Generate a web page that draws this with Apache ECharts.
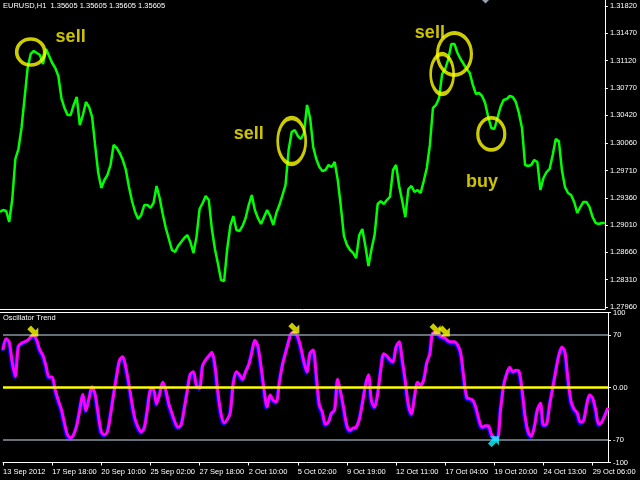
<!DOCTYPE html>
<html><head><meta charset="utf-8">
<script src="https://cdn.jsdelivr.net/npm/echarts@6/dist/echarts.min.js"></script>
<style>html,body{margin:0;padding:0;background:#000;}#c{width:640px;height:480px;}</style>
</head><body><div id="c"></div>
<script>
const tickLabels = ['13 Sep 2012','17 Sep 18:00','20 Sep 10:00','25 Sep 02:00','27 Sep 18:00','2 Oct 10:00','5 Oct 02:00','9 Oct 19:00','12 Oct 11:00','17 Oct 04:00','19 Oct 20:00','24 Oct 13:00','29 Oct 06:00'];
const priceTicks = [1.31820,1.31470,1.31120,1.30770,1.30420,1.30060,1.29710,1.29360,1.29010,1.28660,1.28310,1.27960];
const oscTicks = [100,70,0,-70,-100];
const oscLevels = [70,0,-70];
const price = [1.29178,1.29204,1.29191,1.29050,1.29345,1.29858,1.29986,1.30256,1.30640,1.31025,
1.31205,1.31243,1.31217,1.31192,1.31076,1.31269,1.31179,1.31089,1.31025,1.30922,
1.30640,1.30512,1.30422,1.30422,1.30551,1.30653,1.30294,1.30422,1.30589,1.30525,
1.30397,1.30025,1.29678,1.29486,1.29589,1.29653,1.29781,1.30038,1.29999,1.29935,
1.29845,1.29717,1.29499,1.29319,1.29178,1.29089,1.29140,1.29268,1.29268,1.29230,
1.29294,1.29512,1.29358,1.29153,1.28973,1.28832,1.28691,1.28665,1.28742,1.28794,
1.28845,1.28883,1.28794,1.28653,1.28858,1.29217,1.29294,1.29384,1.29332,1.28960,
1.28704,1.28511,1.28306,1.28294,1.28704,1.29000,1.29127,1.28948,1.28935,1.29000,
1.29101,1.29268,1.29396,1.29204,1.29101,1.29024,1.29114,1.29204,1.29127,1.29012,
1.29166,1.29268,1.29396,1.29525,1.29973,1.30204,1.30230,1.30153,1.30114,1.30191,
1.30551,1.30384,1.30012,1.29858,1.29755,1.29704,1.29717,1.29781,1.29755,1.29820,
1.29589,1.29255,1.28871,1.28755,1.28691,1.28653,1.28588,1.28883,1.28960,1.28742,
1.28486,1.28704,1.28883,1.29281,1.29319,1.29281,1.29332,1.29371,1.29717,1.29781,
1.29512,1.29319,1.29114,1.29473,1.29512,1.29435,1.29460,1.29422,1.29576,1.29743,
1.30038,1.30512,1.30551,1.30640,1.30948,1.31012,1.31140,1.31333,1.31333,1.31217,
1.31140,1.31076,1.31012,1.30961,1.30807,1.30692,1.30704,1.30666,1.30576,1.30397,
1.30256,1.30243,1.30384,1.30525,1.30615,1.30627,1.30666,1.30653,1.30589,1.30448,
1.30256,1.29781,1.29768,1.29781,1.29845,1.29820,1.29460,1.29614,1.29691,1.29730,
1.29909,1.30114,1.30089,1.29717,1.29499,1.29422,1.29396,1.29307,1.29166,1.29242,
1.29307,1.29307,1.29242,1.29114,1.29037,1.29024,1.29037,1.29037];
const osc = [50,65,61,34,15,55,59,61,63,67,
69,63,50,43,29,14,14,-3,-17,-29,
-47,-63,-67,-63,-51,-30,-9,-31,-15,1,
-9,-35,-59,-63,-59,-37,-10,15,37,41,
27,5,-21,-42,-53,-59,-54,-30,-3,-2,
-22,-9,7,-3,-22,-34,-46,-53,-50,-29,
-5,18,21,3,-1,29,37,42,47,30,
-7,-35,-47,-43,-34,6,21,17,11,21,
30,46,63,55,29,-2,-26,-10,-17,-19,
7,30,46,61,73,73,67,53,34,21,
46,50,17,-23,-33,-49,-46,-34,-30,11,
-7,-29,-51,-57,-54,-53,-43,-22,2,17,
-18,-26,-9,23,45,42,37,34,54,61,
37,9,-23,-35,-13,7,3,10,33,45,
73,73,70,67,66,62,61,61,57,47,
15,-13,-15,-17,-27,-43,-53,-51,-51,-62,
-67,-69,-31,2,18,27,21,23,22,-2,
-38,-59,-65,-53,-30,-21,-50,-49,-23,-1,
22,43,54,47,10,-19,-29,-34,-46,-45,
-25,-10,-14,-30,-49,-46,-37,-27];
const sellArrows = [[10,74],[95,78],[141,77],[144,74]];
const buyArrows = [[160,-71]];
const circles = [[10,1.31230],[95,1.30089],[144,1.30948],[148,1.31205],[160,1.30179]];
const notes = [[23,1.31420,'sell'],[81,1.30175,'sell'],[140,1.31472,'sell'],[157,1.29563,'buy']];

const categories = price.map((_, i) => i % 16 === 0 ? tickLabels[i / 16] : String(i));
const circleSizes = [[28,26],[28,46],[23,40],[34,42],[27,32]];
const FONT = 'Liberation Sans';
const arrowPath = 'path://M0,3L5,3L5,0L10,5L5,10L5,7L0,7Z';

const chart = echarts.init(document.getElementById('c'), null, {renderer: 'canvas'});
chart.setOption({
  backgroundColor: '#000',
  animation: false,
  grid: [
    {left: 0, top: 0, width: 608, height: 309},
    {left: 0, top: 312.5, width: 608, height: 150}
  ],
  xAxis: [
    {type: 'category', gridIndex: 0, data: categories, boundaryGap: false,
     axisLine: {show: true, onZero: false, lineStyle: {color: '#fff', width: 1}},
     axisTick: {show: false}, axisLabel: {show: false}, splitLine: {show: false}},
    {type: 'category', gridIndex: 1, data: categories, boundaryGap: false, position: 'bottom',
     axisLine: {show: true, onZero: false, lineStyle: {color: '#fff', width: 1}},
     axisTick: {show: true, interval: 15, length: 3, lineStyle: {color: '#fff'}},
     axisLabel: {interval: 15, color: '#fff', fontSize: 7.5, fontFamily: FONT, align: 'left', margin: 5,
       formatter: (v, idx) => (idx % 16 === 0 ? tickLabels[idx / 16] : '')},
     splitLine: {show: false}}
  ],
  yAxis: [
    {type: 'value', gridIndex: 0, position: 'right', min: 1.279344, max: 1.318969,
     axisLine: {show: true, onZero: false, lineStyle: {color: '#fff'}},
     axisTick: {show: true, length: 3, customValues: priceTicks, lineStyle: {color: '#fff'}},
     axisLabel: {customValues: priceTicks, color: '#fff', fontSize: 7.5, fontFamily: FONT, margin: 5,
       formatter: v => v.toFixed(5)},
     splitLine: {show: false}},
    {type: 'value', gridIndex: 1, position: 'right', min: -100, max: 100,
     axisLine: {show: true, onZero: false, lineStyle: {color: '#fff'}},
     axisTick: {show: true, length: 3, customValues: oscTicks, lineStyle: {color: '#fff'}},
     axisLabel: {customValues: oscTicks, color: '#fff', fontSize: 7.5, fontFamily: FONT, margin: 5,
       formatter: v => (v === 0 ? '0.00' : String(v))},
     splitLine: {show: false}}
  ],
  series: [
    {type: 'line', xAxisIndex: 0, yAxisIndex: 0, data: price, symbol: 'none',
     lineStyle: {color: '#00ff00', width: 2.5}},
    {type: 'line', xAxisIndex: 1, yAxisIndex: 1, data: osc, symbol: 'none', smooth: 0.3,
     lineStyle: {color: '#ff00ff', width: 3, shadowColor: '#0000ff', shadowOffsetX: -1, shadowOffsetY: 1.5, shadowBlur: 0},
     markLine: {silent: true, symbol: 'none', label: {show: false},
       data: oscLevels.map(v => ({yAxis: v, lineStyle: {type: 'solid', color: v === 0 ? '#ffff00' : '#8796a5', width: v === 0 ? 2.5 : 1.5}}))}},
    {type: 'scatter', xAxisIndex: 1, yAxisIndex: 1, data: sellArrows, symbol: arrowPath, symbolSize: 13,
     symbolRotate: -45, itemStyle: {color: '#ffff00'}, z: 5},
    {type: 'scatter', xAxisIndex: 1, yAxisIndex: 1, data: buyArrows, symbol: arrowPath, symbolSize: 13,
     symbolRotate: 45, itemStyle: {color: '#00ffff'}, z: 5},
    {type: 'scatter', xAxisIndex: 0, yAxisIndex: 0, symbol: 'circle',
     data: circles.map((c, i) => ({value: c, symbolSize: circleSizes[i]})),
     itemStyle: {color: 'rgba(0,0,0,0)', borderColor: '#ffff00', borderWidth: 3.5}, z: 5},
    {type: 'scatter', xAxisIndex: 0, yAxisIndex: 0, symbolSize: 0,
     data: notes.map(n => ({value: [n[0], n[1]], name: n[2]})),
     label: {show: true, position: 'inside', formatter: p => p.name, color: '#fff200',
       fontSize: 18, fontWeight: 'bold', fontFamily: FONT}, z: 6}
  ],
  graphic: [
    {type: 'text', left: 3, top: 2, style: {text: 'EURUSD,H1  1.35605 1.35605 1.35605 1.35605', fill: '#fff', fontSize: 7.5, fontFamily: FONT}},
    {type: 'text', left: 3, top: 314, style: {text: 'Oscillator Trend', fill: '#fff', fontSize: 7.5, fontFamily: FONT}},
    {type: 'line', shape: {x1: 0, y1: 312.5, x2: 608, y2: 312.5}, style: {stroke: '#fff', lineWidth: 1}},
    {type: 'polygon', shape: {points: [[482, 0], [489, 0], [485.5, 3.5]]}, style: {fill: '#9aa0b0'}}
  ]
});
</script></body></html>
